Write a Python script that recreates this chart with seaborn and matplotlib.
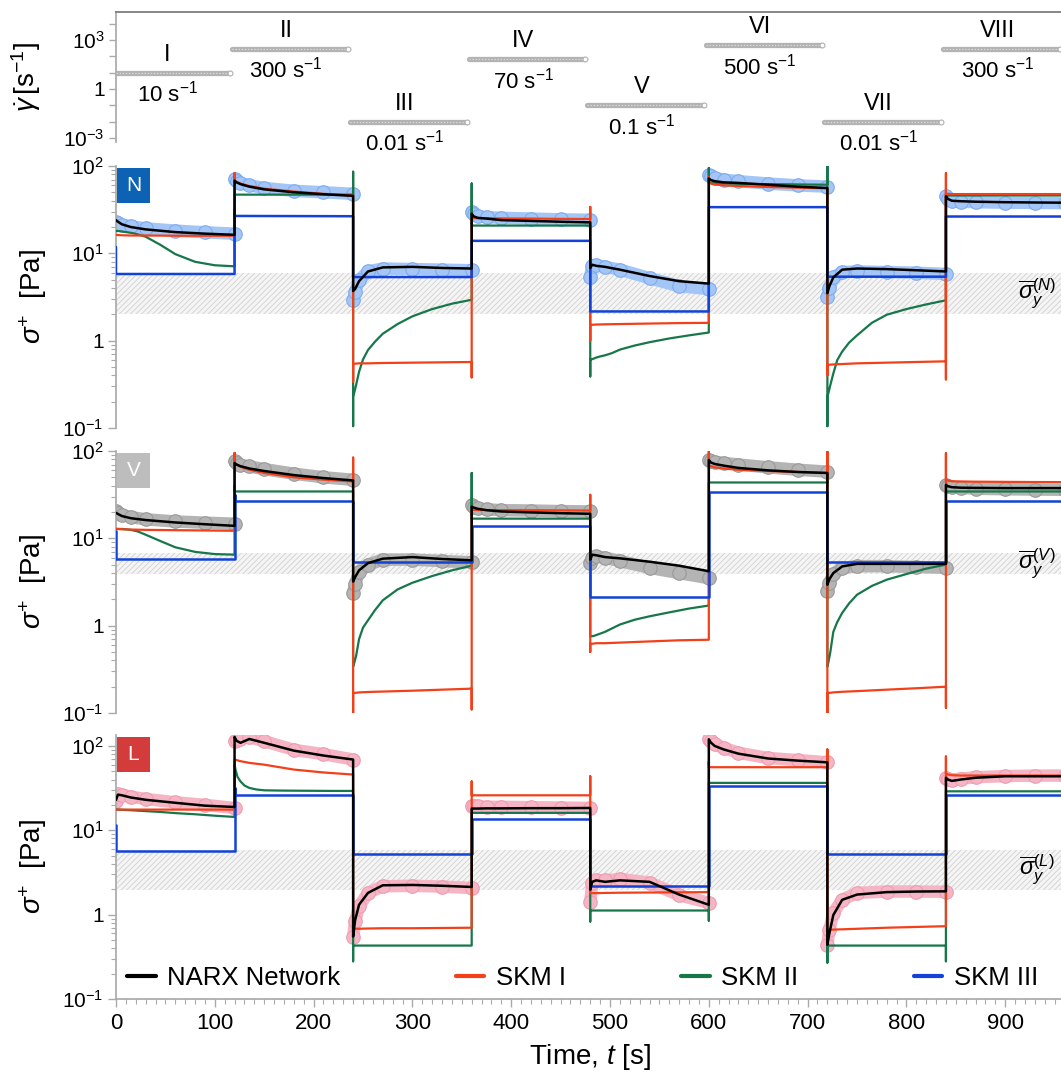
import numpy as np
import pandas as pd
import matplotlib
matplotlib.use("Agg")
import matplotlib.pyplot as plt
import matplotlib.ticker as mticker
from matplotlib.patches import Rectangle
from matplotlib.lines import Line2D
import seaborn as sns

# step protocol
seg_start = [0, 120, 240, 360, 480, 600, 720, 840]
seg_len = 120
step_names = ["I", "II", "III", "IV", "V", "VI", "VII", "VIII"]
shear_rate = [10, 300, 0.01, 70, 0.1, 500, 0.01, 300]
rate_labels = ["10", "300", "0.01", "70", "0.1", "500", "0.01", "300"]

# sample times inside each step (s after the step starts)
step_off = [0, 2, 6, 15, 30, 60, 90, 120]
green_off = [0, 1, 3, 6, 10, 15, 22, 30, 45, 60, 80, 100, 120]
flat_off = [0, 120]

# ---------------- N ----------------
n_exp = [[23, 22, 21.2, 20.4, 19.3, 18.2, 17.4, 16.8],
         [70.5, 68, 64, 60, 56, 52, 50, 48],
         [2.95, 3.6, 4.9, 6.2, 6.7, 6.6, 6.5, 6.4],
         [30, 28, 26.5, 26, 25.5, 25, 24.5, 24.2],
         [5.4, 7.2, 7.3, 7.0, 6.5, 5.2, 4.2, 3.9],
         [79.5, 76, 73, 70, 67, 63, 60, 58],
         [3.2, 4.0, 5.3, 6.1, 6.2, 6.1, 6.0, 5.8],
         [44.8, 42, 40, 39, 38.5, 38, 37.8, 37.6]]
n_narx = [[24, 23, 21.5, 20, 18.8, 17.5, 16.8, 16.3],
          [68, 65, 62, 58, 54, 50, 47.5, 45.5],
          [3.7, 3.9, 4.8, 6.2, 6.9, 7.0, 6.8, 6.7],
          [28.5, 26.5, 25.5, 25, 24, 23.5, 23, 22.6],
          [6.8, 7.4, 7.2, 7.0, 6.5, 5.5, 4.8, 4.5],
          [72, 69, 67, 65, 64, 61, 58, 56],
          [3.5, 4.2, 5.3, 6.5, 6.7, 6.6, 6.4, 6.2],
          [45, 42, 40, 39.5, 39, 38.5, 38.2, 38]]
n_skm1 = [[16.3, 16.2, 16.1, 16, 16, 15.9, 15.9, 15.9],
          [68, 66, 63, 59, 55, 51, 48, 46],
          [0.545, 0.545, 0.55, 0.55, 0.555, 0.56, 0.565, 0.57],
          [25.3, 25.3, 25.2, 25.2, 25.1, 25, 24.8, 24.7],
          [1.52, 1.52, 1.53, 1.54, 1.55, 1.57, 1.59, 1.6],
          [64, 63, 61.5, 60, 59, 57.5, 56.5, 55.5],
          [0.53, 0.53, 0.535, 0.54, 0.55, 0.56, 0.57, 0.58],
          [47.7, 47.7, 47.7, 47.7, 47.7, 47.7, 47.7, 47.7]]
n_skm2 = [[18, 18, 18, 17.8, 17.5, 17.2, 16.5, 15.5, 12.5, 9.8, 8.0, 7.3, 7.1],
          [47, 47, 47, 47, 47, 47, 47, 47, 47, 47, 47, 47, 47],
          [0.23, 0.25, 0.31, 0.44, 0.61, 0.78, 0.97, 1.2, 1.55, 1.9, 2.3, 2.65, 2.94],
          [20.8, 20.8, 20.8, 20.8, 20.8, 20.8, 20.8, 20.8, 20.8, 20.8, 20.8, 20.8, 20.8],
          [0.61, 0.61, 0.62, 0.64, 0.66, 0.68, 0.72, 0.79, 0.88, 0.96, 1.06, 1.15, 1.24],
          [64, 64, 64, 63.5, 63.3, 63, 62.8, 62.5, 62.2, 62, 61.7, 61.3, 61],
          [0.23, 0.25, 0.31, 0.42, 0.6, 0.75, 0.95, 1.15, 1.6, 1.98, 2.3, 2.6, 2.9],
          [46, 46, 46, 46, 46, 46, 46, 46, 46, 46, 46, 46, 46]]
n_skm3 = [[5.8, 5.8], [26.8, 26.6], [5.35, 5.35], [13.9, 13.9],
          [2.16, 2.16], [33.8, 33.8], [5.4, 5.4], [26.4, 26.4]]
n_spk1 = [[], [83], [0.34], [0.38], [34, 1.0], [75], [0.4], [83, 0.36]]
n_spk2 = [[], [], [86, 0.105], [63], [0.39], [95], [100, 0.105], []]
n_spk3 = [[11.8], [31], [], [], [], [], [], []]
n_band = [2.0, 6.0]

# ---------------- V ----------------
v_exp = [[20.3, 19.5, 18.6, 17.5, 16.5, 15.6, 15.1, 14.7],
         [76, 73, 69, 66.5, 62, 55, 50, 46.8],
         [2.37, 3.0, 4.1, 5.0, 5.7, 5.7, 5.5, 5.3],
         [24.2, 23, 22, 21.5, 21, 20.8, 20.5, 20.3],
         [5.2, 6.0, 6.2, 6.0, 5.5, 4.6, 4.0, 3.5],
         [79.5, 77, 75, 73, 70, 65, 61, 58],
         [2.47, 3.1, 3.9, 4.57, 4.8, 4.8, 4.7, 4.6],
         [41, 40, 39, 38, 37, 36.5, 36.2, 36]]
v_narx = [[19.6, 19, 18, 17, 16.2, 15.2, 14.5, 13.9],
          [73, 70, 67, 63, 59, 53, 49, 46],
          [3.2, 3.6, 4.3, 5.2, 5.85, 6.1, 5.8, 5.6],
          [23, 22.5, 21.8, 21, 20.3, 19.8, 19.4, 19.1],
          [5.7, 6.5, 6.4, 6.1, 5.9, 5.4, 4.86, 4.2],
          [79, 74, 71, 68, 64, 60, 57.5, 56],
          [2.94, 3.4, 4.0, 4.77, 5.1, 5.1, 5.1, 5.1],
          [41, 39.5, 38.5, 38, 37.8, 37.6, 37.6, 37.6]]
v_skm1 = [[12.8, 12.8, 12.7, 12.6, 12.5, 12.4, 12.3, 12.2],
          [73, 70, 66, 61, 56, 50, 47, 44.8],
          [0.17, 0.17, 0.172, 0.174, 0.176, 0.18, 0.185, 0.19],
          [21.2, 21.2, 21.1, 21.1, 21, 21, 20.9, 20.8],
          [0.62, 0.62, 0.63, 0.63, 0.64, 0.66, 0.68, 0.69],
          [69, 67, 65, 63, 61, 59, 57.5, 56],
          [0.17, 0.17, 0.172, 0.175, 0.178, 0.185, 0.192, 0.2],
          [46.8, 46, 45, 44.8, 44.5, 44.3, 44.1, 44]]
v_skm2 = [[12.8, 12.8, 12.8, 12.8, 12.7, 12.5, 12, 11, 9.3, 7.9, 7.0, 6.6, 6.5],
          [34.4, 34.4, 34.4, 34.4, 34.4, 34.4, 34.4, 34.4, 34.4, 34.4, 34.4, 34.4, 34.4],
          [0.34, 0.37, 0.45, 0.7, 0.95, 1.15, 1.5, 1.95, 2.6, 3.1, 3.7, 4.3, 4.86],
          [16.8, 16.8, 16.8, 16.8, 16.8, 16.8, 16.8, 16.8, 16.8, 16.8, 16.8, 16.8, 16.8],
          [0.755, 0.755, 0.76, 0.78, 0.81, 0.85, 0.93, 1.03, 1.17, 1.28, 1.42, 1.57, 1.7],
          [43.6, 43.6, 43.6, 43.6, 43.6, 43.6, 43.6, 43.6, 43.6, 43.6, 43.6, 43.6, 43.6],
          [0.34, 0.38, 0.5, 0.85, 1.1, 1.4, 1.8, 2.26, 2.85, 3.36, 3.9, 4.5, 5.0],
          [34.4, 34.4, 34.4, 34.4, 34.4, 34.4, 34.4, 34.4, 34.4, 34.4, 34.4, 34.4, 34.4]]
v_skm3 = [[5.8, 5.8], [27, 27], [5.3, 5.3], [13.9, 13.9],
          [2.13, 2.13], [33.5, 33.5], [5.3, 5.3], [27, 27]]
v_spk1 = [[], [95], [84, 0.1], [0.11], [31.5, 0.5], [99], [99, 0.1], [0.115, 94]]
v_spk2 = [[], [40], [], [56], [], [], [76], []]
v_spk3 = [[12], [31.5], [], [], [], [], [], []]
v_band = [3.9, 6.8]

# ---------------- L ----------------
l_exp = [[22, 27, 26.5, 25, 23.5, 21.5, 20, 18.4],
         [114, 118, 122, 127, 114, 90, 80, 69],
         [0.55, 0.83, 1.25, 1.81, 2.17, 2.2, 2.15, 2.07],
         [19.6, 19.4, 19.2, 19, 19, 18.8, 18.6, 18.4],
         [1.4, 2.4, 2.55, 2.55, 2.65, 2.4, 1.7, 1.38],
         [121, 113, 105, 95, 83, 72, 68, 64],
         [0.44, 0.66, 1.05, 1.5, 1.81, 1.88, 1.88, 1.87],
         [42, 41, 40, 41, 42.5, 44, 44.5, 44.6]]
l_narx = [[23, 26.5, 26, 24.5, 23, 21.2, 19.6, 18.9],
          [128, 115, 109, 121, 109, 88, 77, 69],
          [0.55, 0.86, 1.31, 1.81, 2.23, 2.25, 2.2, 2.13],
          [18.1, 18.1, 18.1, 18.2, 18.2, 18.3, 18.3, 18.4],
          [1.98, 2.45, 2.55, 2.45, 2.55, 2.45, 1.73, 1.31],
          [120, 110, 100, 91, 81, 71, 67, 64],
          [0.44, 0.6, 0.99, 1.5, 1.73, 1.85, 1.88, 1.89],
          [42, 40, 38.5, 40, 42, 43.7, 43.7, 43.7]]
l_skm1 = [[17.6, 17.6, 17.6, 17.6, 17.6, 17.6, 17.6, 17.6],
          [69, 68, 66, 63, 60, 52.5, 48.5, 45.8],
          [0.68, 0.68, 0.68, 0.685, 0.69, 0.69, 0.695, 0.7],
          [26, 26, 26, 26, 26, 26, 26, 26],
          [1.8, 1.8, 1.8, 1.81, 1.82, 1.83, 1.84, 1.85],
          [56, 56, 56, 56, 56, 56, 56, 56],
          [0.66, 0.66, 0.665, 0.67, 0.68, 0.7, 0.715, 0.73],
          [47, 46, 45, 44.6, 44.6, 44.6, 44.6, 44.6]]
l_skm2 = [[17.6, 17.6, 17.6, 17.5, 17.4, 17.3, 17.1, 16.9, 16.5, 16, 15.5, 14.9, 14.4],
          [60, 52, 43, 38, 34, 31.8, 30.5, 29.8, 29.6, 29.5, 29.4, 29.3, 29.3],
          [0.43, 0.43, 0.43, 0.43, 0.43, 0.43, 0.43, 0.43, 0.43, 0.43, 0.43, 0.43, 0.43],
          [16.1, 16.1, 16.1, 16.1, 16.1, 16.1, 16.1, 16.1, 16.1, 16.1, 16.1, 16.1, 16.1],
          [1.12, 1.12, 1.12, 1.12, 1.12, 1.12, 1.12, 1.12, 1.12, 1.12, 1.12, 1.12, 1.12],
          [36.5, 36.5, 36.5, 36.5, 36.5, 36.5, 36.5, 36.5, 36.5, 36.5, 36.5, 36.5, 36.5],
          [0.43, 0.43, 0.43, 0.43, 0.43, 0.43, 0.43, 0.43, 0.43, 0.43, 0.43, 0.43, 0.43],
          [29, 29, 29, 29, 29, 29, 29, 29, 29, 29, 29, 29, 29]]
l_skm3 = [[5.75, 5.75], [26.5, 26.5], [5.3, 5.3], [13.6, 13.6],
          [2.17, 2.17], [33.9, 33.9], [5.3, 5.3], [26.5, 26.5]]
l_spk1 = [[], [], [], [38], [43.7], [65], [91], [75]]
l_spk2 = [[], [60], [0.28], [], [0.83], [0.85], [0.27], [0.28]]
l_spk3 = [[11.7], [31.8], [], [], [], [], [], []]
l_band = [1.97, 5.8]

c_narx, c_skm1, c_skm2, c_skm3 = "black", "#f2401a", "#17774a", "#1242d8"

sns.set_theme(style="ticks")
plt.rcParams["font.family"] = ["Liberation Sans", "DejaVu Sans"]
plt.rcParams["mathtext.fontset"] = "custom"
plt.rcParams["mathtext.rm"] = "Liberation Sans"
plt.rcParams["mathtext.it"] = "Liberation Sans:italic"
plt.rcParams["mathtext.bf"] = "Liberation Sans:bold"
plt.rcParams["hatch.linewidth"] = 0.6
for k in ("text.color", "axes.labelcolor", "xtick.labelcolor", "ytick.labelcolor"):
    plt.rcParams[k] = "black"


def build_path(vals, offs, spikes=None):
    t, v, seg = [], [], []
    for k, (s, row) in enumerate(zip(seg_start, vals)):
        if spikes and spikes[k]:
            for y in spikes[k]:
                t.append(s); v.append(y); seg.append(k)
        for o, y in zip(offs, row):
            t.append(s + o); v.append(y); seg.append(k)
    return pd.DataFrame({"t": t, "v": v, "seg": seg})


W, H = 1061, 1080
left, width = 116 / W, 948.5 / W


def rect(top, bot):
    return [left, 1 - bot / H, width, (bot - top) / H]


fig = plt.figure(figsize=(W / 100, H / 100), dpi=100)
ax0 = fig.add_axes(rect(12, 142))
axN = fig.add_axes(rect(166, 428))
axV = fig.add_axes(rect(451, 713))
axL = fig.add_axes(rect(735, 999))

spine_c = "#aaaaaa"

# ---- shear-rate protocol ----
ax0.set_yscale("log")
ax0.set_xlim(0, 960)
ax0.set_ylim(10 ** -3.25, 10 ** 4.72)
for s, r, nm, lab in zip(seg_start, shear_rate, step_names, rate_labels):
    ax0.plot([s - 3, s + seg_len - 5], [r, r], color="#b3b3b3", lw=3.8,
             solid_capstyle="round", zorder=2)
    ax0.plot([s - 3, s + seg_len - 5], [r, r], color="#dedede", lw=0.8,
             ls=(0, (1.2, 1.6)), zorder=3)
    ax0.plot([s + seg_len - 5], [r], "o", ms=3.5, mfc="white", mec="#b3b3b3",
             mew=0.8, zorder=4)
    ax0.annotate(nm, (s + 52, r), xytext=(0, 5), textcoords="offset points",
                 ha="center", va="bottom", fontsize=17)
    ax0.annotate(lab + r" s$^{-1}$", (s + 52, r), xytext=(0, -6),
                 textcoords="offset points", ha="center", va="top", fontsize=16)
ax0.set_yticks([1e-3, 1, 1e3])
ax0.set_yticklabels([r"10$^{-3}$", "1", r"10$^{3}$"])
ax0.yaxis.set_minor_locator(mticker.FixedLocator([1e-2, 1e-1, 10, 100, 1e4]))
ax0.yaxis.set_minor_formatter(mticker.NullFormatter())
ax0.tick_params(axis="y", which="both", direction="out", length=5, width=1,
                color=spine_c, labelsize=15, pad=3)
ax0.tick_params(axis="x", which="both", bottom=False, labelbottom=False)
ax0.spines["bottom"].set_visible(False)
ax0.spines["right"].set_visible(False)
ax0.spines["left"].set_color(spine_c)
ax0.spines["top"].set_color("#777777")
ax0.set_ylabel(r"$\dot{\gamma}\,[\mathrm{s}^{-1}]$", fontsize=20)
ax0.yaxis.set_label_coords(-0.077, 0.5)

panels = [
    (axN, "N", "#0d62b4", n_exp, n_narx, n_skm1, n_skm2, n_skm3,
     n_spk1, n_spk2, n_spk3, n_band, "#a3c6f7", "#7eabf0", 100),
    (axV, "V", "#bdbdbd", v_exp, v_narx, v_skm1, v_skm2, v_skm3,
     v_spk1, v_spk2, v_spk3, v_band, "#b4b4b4", "#9a9a9a", 100),
    (axL, "L", "#d43b3b", l_exp, l_narx, l_skm1, l_skm2, l_skm3,
     l_spk1, l_spk2, l_spk3, l_band, "#f6b5c4", "#ee9db1", 10 ** 2.13),
]

for (ax, tag, tagc, ex, nx, s1, s2, s3, p1, p2, p3, band, ec1, ec2, ytop) in panels:
    ax.set_yscale("log")
    ax.set_xlim(0, 960)
    ax.set_ylim(0.1, ytop)

    ax.axhspan(band[0], band[1], facecolor="#f5f5f5", edgecolor="#d0d0d0",
               hatch="//////", lw=0, zorder=0)
    ax.text(932, np.sqrt(band[0] * band[1]),
            r"$\overline{\sigma}_y^{(%s)}$" % tag, ha="center", va="center",
            fontsize=17, zorder=7)

    dfe = build_path(ex, step_off)
    sns.lineplot(data=dfe, x="t", y="v", units="seg", estimator=None, sort=False,
                 color=ec1, lw=9, solid_capstyle="round", ax=ax, zorder=2,
                 legend=False)
    sns.scatterplot(data=dfe, x="t", y="v", color=ec1, edgecolor=ec2, s=95,
                    linewidth=0.8, ax=ax, zorder=2, legend=False)

    for vals, offs, spk, col, lw, z in [(s2, green_off, p2, c_skm2, 1.6, 3),
                                         (s1, step_off, p1, c_skm1, 1.6, 4),
                                         (s3, flat_off, p3, c_skm3, 1.8, 5),
                                         (nx, step_off, None, c_narx, 1.8, 6)]:
        df = build_path(vals, offs, spk)
        sns.lineplot(data=df, x="t", y="v", estimator=None, sort=False,
                     color=col, lw=lw, ax=ax, zorder=z, legend=False)

    # badge
    bh = 35 / ax.bbox.height
    bw = 33 / ax.bbox.width
    ax.add_patch(Rectangle((0.001, 0.992 - bh), bw, bh, transform=ax.transAxes,
                           fc=tagc, ec="none", zorder=8, clip_on=False))
    ax.text(0.001 + bw / 2, 0.992 - bh / 2, tag, transform=ax.transAxes,
            ha="center", va="center", color="white", fontsize=15, zorder=9)

    ax.set_yticks([0.1, 1, 10, 100])
    ax.set_yticklabels([r"10$^{-1}$", "1", r"10$^{1}$", r"10$^{2}$"])
    ax.yaxis.set_minor_locator(mticker.LogLocator(base=10, subs=np.arange(2, 10)))
    ax.yaxis.set_minor_formatter(mticker.NullFormatter())
    ax.tick_params(axis="y", which="major", direction="out", length=6, width=1,
                   color=spine_c, labelsize=15, pad=3)
    ax.tick_params(axis="y", which="minor", direction="out", length=3.5,
                   width=0.8, color=spine_c)
    ax.spines["top"].set_visible(False)
    ax.spines["right"].set_visible(False)
    ax.spines["left"].set_color(spine_c)
    ax.set_ylabel(r"$\sigma^{+}$  [Pa]", fontsize=20)
    ax.yaxis.set_label_coords(-0.071, 0.5)
    ax.set_xlabel("")

for ax in (axN, axV):
    ax.spines["bottom"].set_visible(False)
    ax.tick_params(axis="x", which="both", bottom=False, labelbottom=False)

axL.spines["bottom"].set_color(spine_c)
axL.set_xticks(range(0, 1000, 100))
axL.xaxis.set_minor_locator(mticker.MultipleLocator(10))
axL.tick_params(axis="x", which="major", direction="out", length=6, width=1,
                color=spine_c, labelsize=16, pad=4)
axL.tick_params(axis="x", which="minor", direction="out", length=3.5,
                width=0.8, color=spine_c)
axL.set_xlabel(r"Time, $t$ [s]", fontsize=20, labelpad=6)

handles = [Line2D([], [], color=c, lw=3) for c in (c_narx, c_skm1, c_skm2, c_skm3)]
axL.legend(handles, ["NARX Network", "SKM I", "SKM II", "SKM III"], ncol=4,
           mode="expand", loc="center left", bbox_to_anchor=(0.012, 0.08, 0.96, 0.0),
           frameon=False, fontsize=18.5, handlelength=1.1, handletextpad=0.45,
           borderaxespad=0, borderpad=0)

fig.savefig("out.png", dpi=100)
